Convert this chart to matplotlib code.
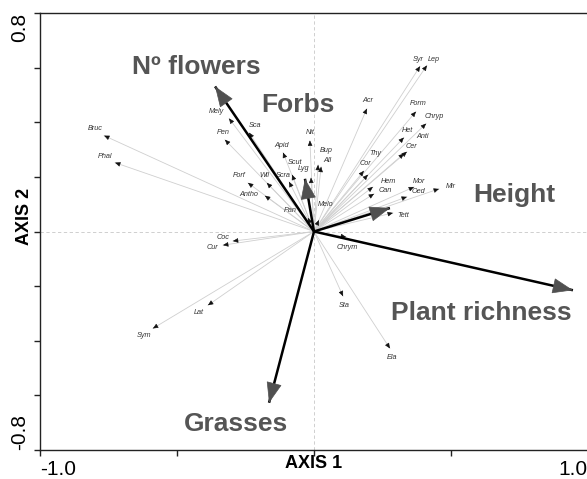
import numpy as np
import matplotlib
matplotlib.use("Agg")
import matplotlib.pyplot as plt

plt.rcParams.update({
    "font.family": ["Liberation Sans", "DejaVu Sans"],
})

# ── Species scores (ordination axes 1 and 2) ─────────────────────
species = ["Bruc", "Phal", "Mely", "Pen", "Sca", "Apid", "Nit", "Scut", "Lyg",
           "Bup", "All", "Scra", "Wil", "Forf", "Antho", "Pan", "Melo", "Coc",
           "Cur", "Lat", "Sym", "Chrym", "Sta", "Ela", "Syr", "Lep", "Acr",
           "Form", "Chryp", "Het", "Anti", "Cer", "Thy", "Cor", "Hem", "Can",
           "Mor", "Oed", "Mir", "Tett"]
sp_x = [-0.766, -0.726, -0.310, -0.325, -0.237, -0.113, -0.015, -0.080, -0.011,
        0.015, 0.026, -0.091, -0.172, -0.241, -0.179, -0.022, 0.018, -0.296,
        -0.332, -0.387, -0.588, 0.117, 0.106, 0.277, 0.387, 0.412, 0.193,
        0.372, 0.409, 0.328, 0.339, 0.328, 0.197, 0.182, 0.215, 0.219,
        0.365, 0.339, 0.456, 0.288]
sp_y = [0.351, 0.252, 0.414, 0.336, 0.362, 0.289, 0.333, 0.208, 0.197,
        0.244, 0.237, 0.182, 0.178, 0.178, 0.131, 0.050, 0.042, -0.035,
        -0.050, -0.270, -0.355, -0.020, -0.237, -0.428, 0.605, 0.608, 0.450,
        0.439, 0.395, 0.344, 0.292, 0.285, 0.208, 0.222, 0.163, 0.138,
        0.163, 0.127, 0.156, 0.068]

# ── Environmental variables ──────────────────────────────────────
env_names = ["Nº flowers", "Forbs", "Height", "Plant richness", "Grasses"]
env_x = [-0.361, -0.033, 0.277, 0.945, -0.164]
env_y = [0.531, 0.193, 0.086, -0.215, -0.627]

# label offsets from arrow tips, in pixels (layout only)
sp_off = [(-9, 7), (-10, 6), (-13, 7), (-2, 7), (6, 7), (-1, 7), (0, 8), (3, 12),
          (-7, 9), (8, 14), (6, 6), (-6, 6), (-2, 7), (-9, 7), (-16, 1), (-18, 7),
          (7, 16), (-10, 4), (-11, -2), (-9, -7), (-9, -7), (1, -11), (1, -9),
          (2, -9), (-2, 7), (7, 6), (1, 8), (2, 8), (8, 7), (4, 7), (16, 15),
          (8, 7), (7, 21), (2, 7), (15, 5), (11, 3), (5, 5), (12, 5), (12, 2),
          (10, -3)]
env_off = [(-19, 19), (-7, 74), (124, 13), (-92, -23), (-33, -21)]

fig = plt.figure(figsize=(5.87, 4.79), dpi=100)
ax = fig.add_axes([40 / 587, 29 / 479, 548 / 587, 437 / 479])
ax.set_xlim(-1.0, 1.0)
ax.set_ylim(-0.8, 0.8)

ax.axhline(0, color="#c8c8c8", ls=(0, (4, 3)), lw=0.6, zorder=0)
ax.axvline(0, color="#c8c8c8", ls=(0, (4, 3)), lw=0.6, zorder=0)

# species: thin grey lines with tiny black heads
for name, x, y, (dx, dy) in zip(species, sp_x, sp_y, sp_off):
    ax.plot([0, x], [0, y], color="#cfcfcf", lw=0.6, zorder=1)
    d = np.hypot(x, y)
    ax.annotate("", xy=(x, y), xytext=(x - 0.01 * x / d, y - 0.01 * y / d),
                arrowprops=dict(arrowstyle="-|>,head_length=0.9,head_width=0.4",
                                mutation_scale=3.5, color="#111111", lw=0.4,
                                shrinkA=0, shrinkB=0), zorder=2)
    ax.annotate(name, xy=(x, y), xytext=(dx, dy), textcoords="offset pixels",
                ha="center", va="center", fontsize=5.2, style="italic",
                color="#333333", zorder=3)

# environmental variables: thick black arrows, grey heads
for name, x, y, (dx, dy) in zip(env_names, env_x, env_y, env_off):
    ax.plot([0, x], [0, y], color="black", lw=1.8, zorder=4,
            solid_capstyle="butt")
    d = np.hypot(x, y)
    ax.annotate("", xy=(x, y), xytext=(x - 0.02 * x / d, y - 0.02 * y / d),
                arrowprops=dict(arrowstyle="-|>,head_length=0.9,head_width=0.34",
                                mutation_scale=15, color="#505050", lw=0.5,
                                shrinkA=0, shrinkB=0), zorder=5)
    ax.annotate(name, xy=(x, y), xytext=(dx, dy), textcoords="offset pixels",
                ha="center", va="center", fontsize=19, fontweight="bold",
                color="#555555", zorder=6)

# ── Axes styling ─────────────────────────────────────────────────
for s in ["left", "bottom", "top", "right"]:
    ax.spines[s].set_linewidth(1.0)
    ax.spines[s].set_color("#222222")

ax.set_xticks([-1.0, -0.5, 0.0, 0.5, 1.0])
ax.set_xticklabels(["-1.0", "", "", "", "1.0"], fontsize=15)
ax.set_yticks(np.round(np.arange(-0.8, 0.81, 0.2), 1))
ylab = ["" for _ in range(9)]
ylab[0] = "-0.8"
ylab[-1] = "0.8"
ax.set_yticklabels(ylab, fontsize=15, rotation=90)
ax.tick_params(direction="out", length=4, width=1.0, color="#222222")
ax.tick_params(axis="x", pad=3)
ax.tick_params(axis="y", pad=4)

xt = ax.get_xticklabels()
xt[0].set_ha("left")
xt[-1].set_ha("right")
yt = ax.get_yticklabels()
yt[0].set_va("bottom")
yt[-1].set_va("top")

ax.set_xlabel("AXIS 1", fontsize=13, fontweight="bold", labelpad=-17)
ax.set_ylabel("AXIS 2", fontsize=13, fontweight="bold")
ax.yaxis.set_label_coords(-0.012, 0.535)

fig.savefig("out.png", dpi=100)
